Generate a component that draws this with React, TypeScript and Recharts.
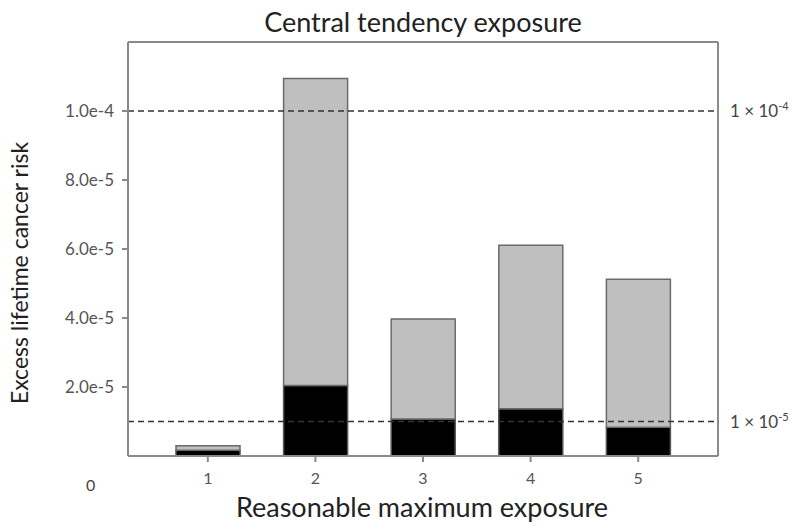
import React from 'react';
import { BarChart, Bar, XAxis, YAxis, ReferenceLine } from 'recharts';

const categories = ['1', '2', '3', '4', '5'];
const centralTendency = [1.7e-6, 2.04e-5, 1.07e-5, 1.37e-5, 8.3e-6];
const reasonableMax = [3.0e-6, 1.094e-4, 3.97e-5, 6.11e-5, 5.12e-5];
const yTicks = [2e-5, 4e-5, 6e-5, 8e-5, 1e-4];
const thresholds = [
  { value: 1e-4, exp: '-4' },
  { value: 1e-5, exp: '-5' },
];

const data = categories.map((c, i) => ({
  cat: c,
  ct: centralTendency[i],
  rest: reasonableMax[i] - centralTendency[i],
}));

const FONT = 'Lato, "Open Sans", sans-serif';
const AXIS = '#8a8a8a';

export default function App() {
  return (
    <div style={{ position: 'absolute', left: 0, top: 0, width: 794, height: 527, background: '#fff', fontFamily: FONT }}>
      <BarChart
        width={794}
        height={527}
        data={data}
        margin={{ top: 41, right: 75, left: 0, bottom: 0 }}
        barCategoryGap={0}
      >
        <XAxis
          xAxisId="top"
          orientation="top"
          dataKey="cat"
          height={1}
          tick={false}
          tickLine={false}
          axisLine={{ stroke: AXIS, strokeWidth: 2 }}
        />
        <YAxis
          yAxisId="right"
          orientation="right"
          width={1}
          type="number"
          domain={[0, 1.2e-4]}
          tick={false}
          tickLine={false}
          axisLine={{ stroke: AXIS, strokeWidth: 2 }}
        />
        <XAxis
          dataKey="cat"
          height={71}
          padding={{ left: 26, right: 26 }}
          tickSize={6}
          tickLine={{ stroke: AXIS, strokeWidth: 2 }}
          axisLine={{ stroke: AXIS, strokeWidth: 2 }}
          tick={{ fill: '#555', fontSize: 16, fontFamily: FONT, dy: 9 }}
          label={{
            content: () => (
              <text x={422} y={517} textAnchor="middle" fontSize={27} fill="#222" fontFamily={FONT}>
                Reasonable maximum exposure
              </text>
            ),
          }}
        />
        <YAxis
          width={128}
          type="number"
          domain={[0, 1.2e-4]}
          ticks={yTicks}
          tickFormatter={(v: number) => v.toExponential(1)}
          tickSize={6}
          tickLine={{ stroke: AXIS, strokeWidth: 2 }}
          axisLine={{ stroke: AXIS, strokeWidth: 2 }}
          tick={{ fill: '#555', fontSize: 17, fontFamily: FONT, dx: -6 }}
          label={{
            content: () => (
              <text
                x={0}
                y={0}
                transform="translate(28,273) rotate(-90)"
                textAnchor="middle"
                fontSize={23}
                fill="#222"
                fontFamily={FONT}
              >
                Excess lifetime cancer risk
              </text>
            ),
          }}
        />
        <Bar dataKey="ct" stackId="a" fill="#000" stroke="#555" strokeWidth={1.5} barSize={64} isAnimationActive={false} />
        <Bar dataKey="rest" stackId="a" fill="#bfbfbf" stroke="#6a6a6a" strokeWidth={1.5} barSize={64} isAnimationActive={false} />
        {thresholds.map((t) => (
          <ReferenceLine
            key={t.exp}
            y={t.value}
            stroke="#333"
            strokeWidth={1.5}
            strokeDasharray="6 4"
            label={{
              content: (p: any) => {
                const vb = p.viewBox || {};
                return (
                  <text x={(vb.x || 0) + (vb.width || 0) + 12} y={(vb.y || 0) + 6} fontSize={17} fill="#444" fontFamily={FONT}>
                    1 × 10
                    <tspan dy={-7} fontSize={11}>{t.exp}</tspan>
                  </text>
                );
              },
            }}
          />
        ))}
      </BarChart>
      <div style={{ position: 'absolute', left: 0, top: 5, width: 846, textAlign: 'center', fontSize: 27, color: '#222', fontFamily: FONT }}>
        Central tendency exposure
      </div>
      <div style={{ position: 'absolute', left: 86, top: 475, fontSize: 16, color: '#444', fontFamily: FONT }}>0</div>
    </div>
  );
}
